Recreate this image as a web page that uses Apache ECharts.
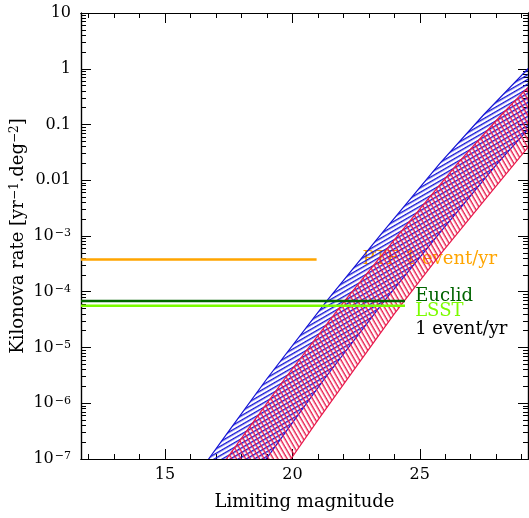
<!DOCTYPE html>
<html>
<head>
<meta charset="utf-8">
<script src="https://cdn.jsdelivr.net/npm/echarts@6/dist/echarts.min.js"></script>
<style>
  html, body { margin: 0; padding: 0; background: #fff; }
  #chart { width: 529px; height: 518px; }
</style>
</head>
<body>
<div id="chart"></div>
<script>
// Axis ranges and ticks
const magRange = [11.7, 29.25];
const rateRange = [1e-7, 10];
const magMajorTicks = [15, 20, 25];
const magMinorTicks = [12, 13, 14, 16, 17, 18, 19, 21, 22, 23, 24, 26, 27, 28, 29];
const rateDecades = [1e-7, 1e-6, 1e-5, 1e-4, 1e-3, 0.01, 0.1, 1, 10];
const rateTickLabels = ['{b|10}{s|−7}', '{b|10}{s|−6}', '{b|10}{s|−5}', '{b|10}{s|−4}', '{b|10}{s|−3}',
                        '{b|0.01}', '{b|0.1}', '{b|1}', '{b|10}'];

// Kilonova rate bands: [limiting magnitude, rate] along each edge
const blueUpper = [[16.0, 3.5e-8], [16.71, 1.0e-7], [17.53, 3.3e-7], [19.0, 2.75e-6], [21.32, 6.6e-5],
                   [23.5, 1.1e-3], [25.79, 0.020], [27.5, 0.148], [29.25, 1.0], [30.0, 2.3]];
const blueLower = [[18.26, 3.5e-8], [18.97, 1.0e-7], [19.79, 3.3e-7], [21.26, 2.75e-6], [23.58, 6.6e-5],
                   [25.76, 1.1e-3], [28.05, 0.020], [29.76, 0.148], [31.5, 1.0]];
const redUpper  = [[16.7, 3.5e-8], [17.41, 1.0e-7], [18.23, 3.3e-7], [19.7, 2.75e-6], [22.02, 6.6e-5],
                   [24.2, 1.1e-3], [26.49, 0.020], [28.2, 0.148], [29.95, 1.0]];
const redLower  = [[19.2, 3.2e-8], [19.94, 1.0e-7], [21.0, 5.0e-7], [22.5, 4.5e-6], [24.0, 4.0e-5],
                   [25.79, 4.6e-4], [27.56, 4.5e-3], [29.25, 0.039], [30.5, 0.19]];

// One-event-per-year survey levels
const ptfLine    = [[11.7, 3.8e-4], [20.95, 3.8e-4]];
const euclidLine = [[11.7, 6.8e-5], [24.42, 6.8e-5]];
const lsstLine   = [[11.7, 5.6e-5], [24.42, 5.6e-5]];

// Annotations: [text, magnitude, rate, colour]
const annotations = [
  ['PTF 1 event/yr', 22.75, 3.8e-4, '#ffa500'],
  ['Euclid', 24.82, 8.4e-5, '#006400'],
  ['LSST', 24.82, 4.5e-5, '#7cfc00'],
  ['1 event/yr', 24.82, 2.15e-5, '#000000']
];

const FONT = '"DejaVu Serif", "Liberation Serif", serif';

// Hatch tiles: a thin horizontal stroke repeated, rotated by the pattern transform
function hatchTile(color, spacing, width) {
  const c = document.createElement('canvas');
  c.width = 16; c.height = spacing;
  const ctx = c.getContext('2d');
  ctx.fillStyle = color;
  ctx.fillRect(0, 0, 16, width);
  return c;
}
const bluePattern = { image: hatchTile('#1212d6', 4, 1.4), repeat: 'repeat', rotation: -Math.PI / 6 };
const redPattern  = { image: hatchTile('#e8184a', 4, 1.4), repeat: 'repeat', rotation: Math.PI / 3 };

function bandSeries(upper, lower, fill, stroke) {
  return {
    type: 'custom',
    coordinateSystem: 'cartesian2d',
    clip: true,
    z: 2,
    silent: true,
    data: [upper[0]],
    renderItem: function (params, api) {
      const pts = upper.map(p => api.coord(p))
        .concat(lower.slice().reverse().map(p => api.coord(p)));
      return {
        type: 'polygon',
        shape: { points: pts },
        style: { fill: fill, stroke: stroke, lineWidth: 1.2 }
      };
    }
  };
}

function levelSeries(data, color) {
  return {
    type: 'line', data: data, symbol: 'none', z: 3, silent: true,
    lineStyle: { color: color, width: 2.5 }
  };
}

// Minor ticks on the log axis at 2..9 × each decade
const rateMinorTicks = [];
for (let e = -7; e < 1; e++) {
  for (let k = 2; k <= 9; k++) rateMinorTicks.push(k * Math.pow(10, e));
}

const supRich = {
  b: { fontFamily: FONT, fontSize: 16, color: '#000' },
  s: { fontFamily: FONT, fontSize: 11, color: '#000', verticalAlign: 'top', padding: [0, 0, 0, 1] }
};

function xAxisCfg(position, ticks, len, withLabels) {
  return {
    type: 'value', min: magRange[0], max: magRange[1], position: position,
    axisLine: { show: true, onZero: false, lineStyle: { color: '#000', width: 1.2 } },
    axisTick: { show: true, inside: true, length: len, customValues: ticks, lineStyle: { color: '#000', width: 1 } },
    axisLabel: withLabels ? { show: true, customValues: magMajorTicks, color: '#000', fontFamily: FONT, fontSize: 16, margin: 8 } : { show: false },
    splitLine: { show: false }
  };
}
function yAxisCfg(position, ticks, len, withLabels) {
  return {
    type: 'log', logBase: 10, min: rateRange[0], max: rateRange[1], position: position,
    axisLine: { show: true, lineStyle: { color: '#000', width: 1.2 } },
    axisTick: { show: true, inside: true, length: len, customValues: ticks, lineStyle: { color: '#000', width: 1 } },
    axisLabel: withLabels ? {
      show: true, customValues: rateDecades, color: '#000', fontFamily: FONT, fontSize: 16, margin: 10,
      rich: supRich,
      formatter: function (v) {
        const i = rateDecades.findIndex(d => Math.abs(Math.log10(d) - Math.log10(v)) < 1e-6);
        return i >= 0 ? rateTickLabels[i] : '';
      }
    } : { show: false },
    splitLine: { show: false },
    minorTick: { show: false }
  };
}

const xMain = xAxisCfg('bottom', magMajorTicks, 10, true);
xMain.name = 'Limiting magnitude';
xMain.nameLocation = 'middle';
xMain.nameGap = 34;
xMain.nameMoveOverlap = false;
xMain.nameTextStyle = { color: '#000', fontFamily: FONT, fontSize: 18, verticalAlign: 'top' };

const yMain = yAxisCfg('left', rateDecades, 10, true);
yMain.name = '{t|Kilonova rate [yr}{s|−1}{t|.deg}{s|−2}{t|]}';
yMain.nameLocation = 'middle';
yMain.nameRotate = 90;
yMain.nameGap = 54;
yMain.nameMoveOverlap = false;
yMain.nameTextStyle = {
  color: '#000', fontFamily: FONT, fontSize: 18,
  rich: {
    t: { fontFamily: FONT, fontSize: 18, color: '#000' },
    s: { fontFamily: FONT, fontSize: 12, color: '#000', verticalAlign: 'top' }
  }
};

const chart = echarts.init(document.getElementById('chart'), null, { renderer: 'canvas' });
chart.setOption({
  animation: false,
  backgroundColor: '#fff',
  grid: { left: 81, right: 1, top: 13, bottom: 59, containLabel: false, outerBoundsMode: 'none' },
  xAxis: [
    xMain,
    xAxisCfg('bottom', magMinorTicks, 5, false),
    xAxisCfg('top', magMajorTicks, 10, false),
    xAxisCfg('top', magMinorTicks, 5, false)
  ],
  yAxis: [
    yMain,
    yAxisCfg('left', rateMinorTicks, 5, false),
    yAxisCfg('right', rateDecades, 10, false),
    yAxisCfg('right', rateMinorTicks, 5, false)
  ],
  series: [
    {
      type: 'custom', coordinateSystem: 'cartesian2d', z: 1, silent: true, clip: false,
      data: annotations.map(a => [a[1], a[2]]),
      renderItem: function (params, api) {
        const a = annotations[params.dataIndex];
        const p = api.coord([a[1], a[2]]);
        return {
          type: 'text', x: p[0], y: p[1],
          style: { text: a[0], fill: a[3], font: '18px ' + FONT, align: 'left', verticalAlign: 'middle' }
        };
      }
    },
    bandSeries(blueUpper, blueLower, bluePattern, '#1212d6'),
    bandSeries(redUpper, redLower, redPattern, '#e8184a'),
    levelSeries(ptfLine, '#ffa500'),
    levelSeries(euclidLine, '#006400'),
    levelSeries(lsstLine, '#7cfc00')
  ]
});
</script>
</body>
</html>
